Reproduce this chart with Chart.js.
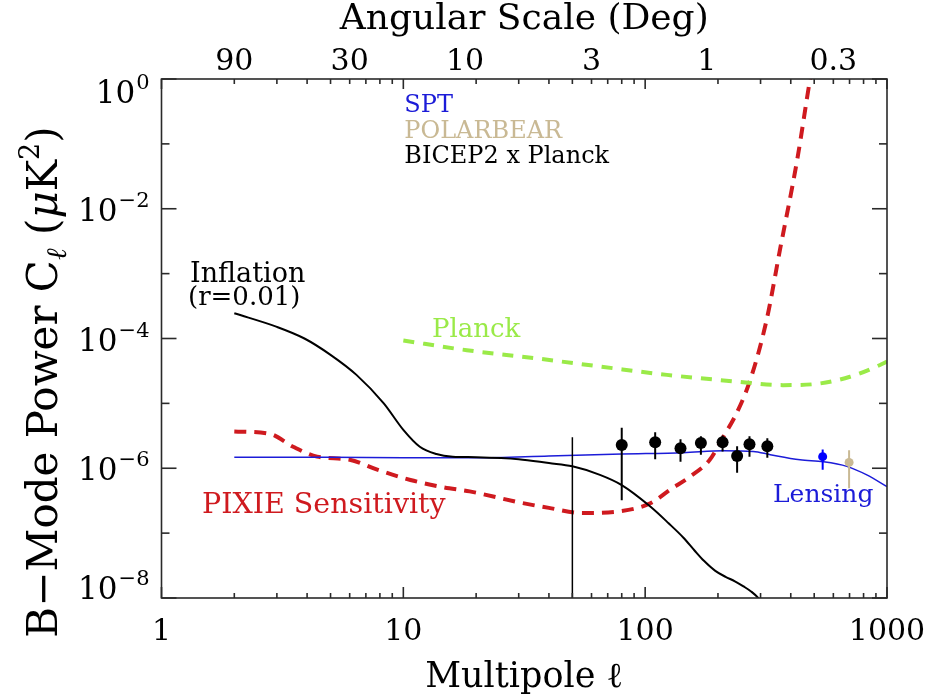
<!DOCTYPE html>
<html>
<head>
<meta charset="utf-8">
<script src="https://cdn.jsdelivr.net/npm/chart.js@4.4.1/dist/chart.umd.min.js"></script>
<style>
  html, body { margin: 0; padding: 0; background: #ffffff; }
  #wrap { width: 932px; height: 695px; position: relative; }
</style>
</head>
<body>
<div id="wrap"><canvas id="chart"></canvas></div>
<script>
// ---- B-mode power spectra, C_l in uK^2 versus multipole l ----
const inflationL = [2, 3, 3.9, 5, 6.4, 8.3, 10, 11.7, 13.7, 16, 20, 30, 40, 50, 65, 80, 105, 125, 144, 160, 175, 195, 215, 235, 255, 275, 292, 320];
const inflationC = [2.45e-4, 1.51e-4, 1.0e-4, 5.6e-5, 2.75e-5, 1.0e-5, 3.9e-6, 2.14e-6, 1.66e-6, 1.51e-6, 1.48e-6, 1.38e-6, 1.2e-6, 1.07e-6, 7.9e-7, 5.5e-7, 2.57e-7, 1.42e-7, 8.5e-8, 5.4e-8, 3.74e-8, 2.62e-8, 2.12e-8, 1.81e-8, 1.51e-8, 1.25e-8, 1.02e-8, 6.3e-9];

const pixieL = [2, 2.8, 3.5, 4.4, 6.0, 7.8, 10.7, 14.6, 18.8, 30.5, 40, 55, 80, 105, 127, 153, 185, 211, 239, 272, 318, 361, 425, 481, 540];
const pixieC = [3.7e-6, 3.4e-6, 2.14e-6, 1.51e-6, 1.35e-6, 9.5e-7, 6.6e-7, 5.1e-7, 4.4e-7, 2.95e-7, 2.45e-7, 2.04e-7, 2.19e-7, 2.88e-7, 4.7e-7, 7.4e-7, 1.35e-6, 3.1e-6, 7.1e-6, 2.3e-5, 1.95e-4, 2.34e-3, 5.6e-2, 1.0, 10];

const planckL = [10, 18.3, 34.5, 65, 123, 232, 373, 513, 703, 936, 1000];
const planckC = [9.3e-5, 6.6e-5, 5.0e-5, 3.7e-5, 2.75e-5, 2.19e-5, 1.91e-5, 2.0e-5, 2.57e-5, 3.9e-5, 4.4e-5];

const lensingL = [2, 5, 10, 20, 40, 80, 144, 211, 280, 329, 437, 546, 682, 825, 1000];
const lensingC = [1.48e-6, 1.48e-6, 1.45e-6, 1.45e-6, 1.55e-6, 1.66e-6, 1.74e-6, 1.86e-6, 1.82e-6, 1.62e-6, 1.35e-6, 1.26e-6, 1.07e-6, 7.9e-7, 5.2e-7];

// ---- band powers with error bars ----
const bicepL  = [80, 110, 140, 170, 209, 240, 270, 320];
const bicepC  = [2.29e-6, 2.51e-6, 2.04e-6, 2.45e-6, 2.51e-6, 1.55e-6, 2.34e-6, 2.19e-6];
const bicepLo = [3.2e-7, 1.38e-6, 1.26e-6, 1.62e-6, 1.82e-6, 8.5e-7, 1.51e-6, 1.45e-6];
const bicepHi = [4.2e-6, 3.6e-6, 2.8e-6, 3.1e-6, 3.2e-6, 2.19e-6, 3.1e-6, 2.9e-6];

const sptL  = [542];
const sptC  = [1.51e-6];
const sptLo = [9.5e-7];
const sptHi = [1.95e-6];

const pbL  = [697];
const pbC  = [1.23e-6];
const pbLo = [4.9e-7];
const pbHi = [1.9e-6];

// vertical marker at l = 50
const markerL = [50, 50];
const markerC = [3.0e-6, 1.0e-9];

// ---- axis ticks ----
const tickL = [1, 2, 3, 4, 5, 6, 7, 8, 9, 10, 20, 30, 40, 50, 60, 70, 80, 90, 100, 200, 300, 400, 500, 600, 700, 800, 900, 1000];
const labelL = [1, 10, 100, 1000];
const angleDeg = [90, 30, 10, 3, 1, 0.3];
const angleText = ['90', '30', '10', '3', '1', '0.3'];
const decadeExp = [0, -1, -2, -3, -4, -5, -6, -7, -8];
const labelExp = [0, -2, -4, -6, -8];

const SERIF = 'DejaVu Serif';
const RED = '#cf1a1f';
const GREEN = '#9aea48';
const BLUE = '#1c1cd8';
const TAN = '#c9b994';

const pts = (ls, cs) => ls.map((l, i) => ({ x: l, y: cs[i] }));
const bars = (ls, lo, hi) => {
  const out = [];
  ls.forEach((l, i) => { out.push({ x: l, y: lo[i] }, { x: l, y: hi[i] }, { x: l, y: null }); });
  return out;
};

const curve = (data, color, width, dash) => ({
  data, borderColor: color, borderWidth: width, borderDash: dash || [],
  pointRadius: 0, cubicInterpolationMode: 'monotone', fill: false, clip: 0
});

const datasets = [
  { data: pts(bicepL, bicepC), showLine: false, pointRadius: 6, pointBackgroundColor: '#000', pointBorderWidth: 0 },
  { data: pts(sptL, sptC), showLine: false, pointRadius: 4.5, pointBackgroundColor: '#0000ff', pointBorderWidth: 0 },
  { data: pts(pbL, pbC), showLine: false, pointRadius: 4.5, pointBackgroundColor: TAN, pointBorderWidth: 0 },
  { data: bars(bicepL, bicepLo, bicepHi), borderColor: '#000', borderWidth: 2, pointRadius: 0, spanGaps: false },
  { data: bars(sptL, sptLo, sptHi), borderColor: '#0000ff', borderWidth: 2, pointRadius: 0, spanGaps: false },
  { data: bars(pbL, pbLo, pbHi), borderColor: TAN, borderWidth: 2, pointRadius: 0, spanGaps: false },
  { data: pts(markerL, markerC), borderColor: '#000', borderWidth: 1.5, pointRadius: 0, clip: 0 },
  curve(pts(inflationL, inflationC), '#000', 2),
  curve(pts(lensingL, lensingC), BLUE, 1.5),
  curve(pts(planckL, planckC), GREEN, 4, [11, 9]),
  curve(pts(pixieL, pixieC), RED, 4, [12, 8])
];

// frame, inward ticks, y labels, y title and curve labels
const decor = {
  id: 'decor',
  afterDraw(chart) {
    const { ctx, chartArea: a, scales } = chart;
    const xs = scales.x, ys = scales.y;
    const seg = (x1, y1, x2, y2) => { ctx.beginPath(); ctx.moveTo(x1, y1); ctx.lineTo(x2, y2); ctx.stroke(); };
    ctx.save();
    ctx.strokeStyle = '#2a2a2a';
    ctx.lineWidth = 1.6;
    ctx.strokeRect(a.left, a.top, a.right - a.left, a.bottom - a.top);

    tickL.forEach(v => {
      const px = xs.getPixelForValue(v);
      const major = labelL.includes(v);
      seg(px, a.bottom, px, a.bottom - (major ? 11 : 5));
      seg(px, a.top, px, a.top + (major ? 10 : 5));
    });
    decadeExp.forEach(e => {
      const py = ys.getPixelForValue(Math.pow(10, e));
      const len = labelExp.includes(e) ? 15 : 8;
      seg(a.left, py, a.left + len, py);
      seg(a.right, py, a.right - len, py);
    });

    // y tick labels with superscript exponents; end labels nudged inside the frame
    ctx.fillStyle = '#000';
    labelExp.forEach(e => {
      let py = ys.getPixelForValue(Math.pow(10, e));
      if (e === 0) py += 12;
      if (e === -8) py -= 11;
      const sup = e === 0 ? '0' : '\u2212' + Math.abs(e);
      ctx.font = `21px "${SERIF}"`;
      const sw = ctx.measureText(sup).width;
      const right = a.left - 12;
      ctx.textAlign = 'left';
      ctx.textBaseline = 'alphabetic';
      ctx.fillText(sup, right - sw, py - 2);
      ctx.font = `31px "${SERIF}"`;
      ctx.textAlign = 'right';
      ctx.fillText('10', right - sw - 1, py + 12);
    });

    // rotated y-axis title
    const parts = [
      { t: 'B\u2212Mode Power C', f: `42px "${SERIF}"`, dy: 0 },
      { t: '\u2113', f: `italic 28px "${SERIF}"`, dy: 9 },
      { t: ' (', f: `42px "${SERIF}"`, dy: 0 },
      { t: '\u03bc', f: `italic 42px "${SERIF}"`, dy: 0 },
      { t: 'K', f: `42px "${SERIF}"`, dy: 0 },
      { t: '2', f: `27px "${SERIF}"`, dy: -18 },
      { t: ')', f: `42px "${SERIF}"`, dy: 0 }
    ];
    let total = 0;
    parts.forEach(p => { ctx.font = p.f; p.w = ctx.measureText(p.t).width; total += p.w; });
    ctx.translate(57, 382);
    ctx.rotate(-Math.PI / 2);
    ctx.textAlign = 'left';
    let cx = -total / 2;
    parts.forEach(p => { ctx.font = p.f; ctx.fillText(p.t, cx, p.dy); cx += p.w; });
    ctx.setTransform(1, 0, 0, 1, 0, 0);

    // curve and data labels
    const lbl = (text, x, y, size, color) => {
      ctx.font = `${size}px "${SERIF}"`;
      ctx.fillStyle = color;
      ctx.textAlign = 'left';
      ctx.textBaseline = 'alphabetic';
      ctx.fillText(text, x, y);
    };
    const x10 = xs.getPixelForValue(10);
    lbl('SPT', x10 + 1, 112, 24, BLUE);
    lbl('POLARBEAR', x10 + 1, 138, 24, TAN);
    lbl('BICEP2 x Planck', x10 + 1, 163, 24, '#000');
    lbl('Inflation', 190, 282, 27, '#000');
    lbl('(r=0.01)', 188, 305, 26, '#000');
    lbl('Planck', 432, 337, 26, GREEN);
    lbl('PIXIE Sensitivity', 202, 513, 28.5, RED);
    lbl('Lensing', 773, 502, 25, BLUE);
    ctx.restore();
  }
};

const noEdgePad = s => { s.paddingLeft = 0; s.paddingRight = 0; };

new Chart(document.getElementById('chart'), {
  type: 'line',
  data: { datasets },
  plugins: [decor],
  options: {
    responsive: true,
    maintainAspectRatio: false,
    animation: false,
    layout: { padding: { left: 161.5, right: 45, top: 0, bottom: 0 } },
    plugins: { legend: { display: false }, tooltip: { enabled: false } },
    scales: {
      x: {
        type: 'logarithmic', position: 'bottom', min: 1, max: 1000,
        afterBuildTicks: s => { s.ticks = tickL.map(v => ({ value: v })); },
        afterFit: s => { s.height = 97; noEdgePad(s); },
        grid: { display: false, drawTicks: false },
        border: { display: false },
        ticks: {
          autoSkip: false, maxRotation: 0, minRotation: 0, padding: 16, color: '#000',
          font: { family: SERIF, size: 30 },
          callback: v => (labelL.includes(v) ? String(v) : '')
        },
        title: {
          display: true, text: 'Multipole \u2113', color: '#000',
          font: { family: SERIF, size: 35, lineHeight: 1 }, padding: { top: 0, bottom: 0 }
        }
      },
      x2: {
        type: 'logarithmic', position: 'top', min: 1, max: 1000,
        afterBuildTicks: s => { s.ticks = angleDeg.map(d => ({ value: 180 / d })); },
        afterFit: s => { s.height = 79; noEdgePad(s); },
        grid: { display: false, drawTicks: false },
        border: { display: false },
        ticks: {
          autoSkip: false, maxRotation: 0, minRotation: 0, padding: -1, color: '#000',
          font: { family: SERIF, size: 30 },
          callback: (v, i) => angleText[i]
        },
        title: {
          display: true, text: 'Angular Scale (Deg)', color: '#000',
          font: { family: SERIF, size: 36, lineHeight: 1 }, padding: { top: 2, bottom: 0 }
        }
      },
      y: {
        type: 'logarithmic', min: 1e-8, max: 1, display: false
      }
    }
  }
});
</script>
</body>
</html>
